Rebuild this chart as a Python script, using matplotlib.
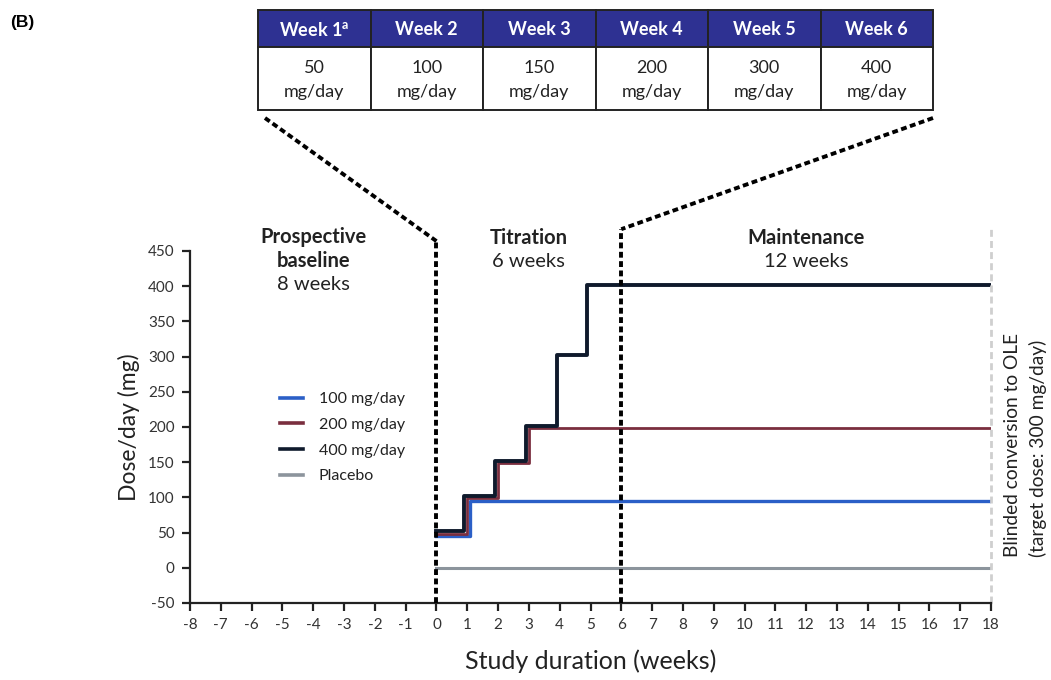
import matplotlib
matplotlib.use("Agg")
import matplotlib.pyplot as plt
from matplotlib.patches import Rectangle
from matplotlib.lines import Line2D

plt.rcParams['font.family'] = ['Lato', 'DejaVu Sans']
plt.rcParams['axes.unicode_minus'] = False

# dose schedules (weeks, mg/day), drawn as steps
weeks_100 = [0, 1.1, 18]
dose_100 = [45, 95, 95]
weeks_200 = [0, 1.0, 2.0, 3.0, 18]
dose_200 = [48, 99, 149, 199, 199]
weeks_400 = [0, 0.9, 1.9, 2.9, 3.9, 4.9, 18]
dose_400 = [52, 102, 152, 202, 302, 402, 402]
weeks_pbo = [0, 18]
dose_pbo = [0, 0]

table_weeks = ['Week 1', 'Week 2', 'Week 3', 'Week 4', 'Week 5', 'Week 6']
table_doses = ['50', '100', '150', '200', '300', '400']

series_labels = ['100 mg/day', '200 mg/day', '400 mg/day', 'Placebo']
c_100, c_200, c_400, c_pbo = '#2B5FC7', '#7A2E3E', '#0F1A2C', '#8C949C'
txt = '#222222'

W, H = 1051, 680
fig = plt.figure(figsize=(W / 100, H / 100), dpi=100)
ax = fig.add_axes([190 / W, 77 / H, 801 / W, 352 / H])
ax.patch.set_alpha(0)

ax.plot(weeks_pbo, dose_pbo, drawstyle='steps-post', color=c_pbo, lw=2.2)
ax.plot(weeks_100, dose_100, drawstyle='steps-post', color=c_100, lw=2.4)
ax.plot(weeks_200, dose_200, drawstyle='steps-post', color=c_200, lw=2.0)
ax.plot(weeks_400, dose_400, drawstyle='steps-post', color=c_400, lw=2.8)

ax.set_xlim(-8, 18)
ax.set_ylim(-50, 450)
ax.set_xticks(range(-8, 19))
ax.set_yticks(range(-50, 451, 50))
for s in ['top', 'right']:
    ax.spines[s].set_visible(False)
for s in ['left', 'bottom']:
    ax.spines[s].set_linewidth(1.6)
    ax.spines[s].set_color(txt)
ax.tick_params(direction='out', length=6, width=1.6, color=txt,
               labelsize=11, labelcolor='#333333', pad=5)
ax.set_xlabel('Study duration (weeks)', fontsize=18, color=txt, labelpad=12)
ax.set_ylabel('Dose/day (mg)', fontsize=16.5, color=txt, labelpad=6)

# phase boundaries
dash = (0, (1.5, 0.9))
top0, top6 = 464, 481
ax.plot([0, 0], [-50, top0], color='black', lw=2.8, ls=dash, clip_on=False, zorder=5)
ax.plot([6, 6], [-50, top6], color='black', lw=2.8, ls=dash, clip_on=False, zorder=5)
ax.plot([18, 18], [-50, top6], color='#CFCFCF', lw=2.0, ls=(0, (2.5, 1.5)), clip_on=False)

# phase labels
fs = 14.5
ax.text(-4, 470, 'Prospective', ha='center', va='center', fontsize=fs, fontweight='bold', color=txt)
ax.text(-4, 436, 'baseline', ha='center', va='center', fontsize=fs, fontweight='bold', color=txt)
ax.text(-4, 402, '8 weeks', ha='center', va='center', fontsize=fs, color=txt)
ax.text(3, 469, 'Titration', ha='center', va='center', fontsize=fs, fontweight='bold', color=txt)
ax.text(3, 435, '6 weeks', ha='center', va='center', fontsize=fs, color=txt)
ax.text(12, 469, 'Maintenance', ha='center', va='center', fontsize=fs, fontweight='bold', color=txt)
ax.text(12, 435, '12 weeks', ha='center', va='center', fontsize=fs, color=txt)

handles = [Line2D([], [], color=c, lw=2.6) for c in [c_100, c_200, c_400, c_pbo]]
ax.legend(handles, series_labels, loc='upper left', bbox_to_anchor=(0.105, 0.617),
          frameon=False, fontsize=11.5, handlelength=1.4, handletextpad=1.0,
          labelspacing=0.72, labelcolor=txt, borderaxespad=0)

# overlay in pixel coordinates for the table and connectors
ov = fig.add_axes([0, 0, 1, 1])
ov.set_xlim(0, W)
ov.set_ylim(H, 0)
ov.axis('off')

x0, x1 = 258, 933
y_top, y_mid, y_bot = 10, 47, 110
cw = (x1 - x0) / len(table_weeks)
for i, (wk, d) in enumerate(zip(table_weeks, table_doses)):
    cx = x0 + i * cw
    ov.add_patch(Rectangle((cx, y_top), cw, y_mid - y_top, facecolor='#2E3192',
                           edgecolor=txt, lw=1.4))
    ov.add_patch(Rectangle((cx, y_mid), cw, y_bot - y_mid, facecolor='white',
                           edgecolor=txt, lw=1.4))
    label = wk + ('$^{\\mathregular{a}}$' if i == 0 else '')
    ov.text(cx + cw / 2, (y_top + y_mid) / 2 + 1, label, ha='center', va='center',
            color='white', fontsize=13, fontweight='bold')
    ov.text(cx + cw / 2, 68, d, ha='center', va='center', fontsize=13, color=txt)
    ov.text(cx + cw / 2, 92, 'mg/day', ha='center', va='center', fontsize=13, color=txt)

# dashed connectors from table corners to the phase boundaries
to_px = ax.transData + ov.transData.inverted()
for xa, ya, xb in [(0, top0, 265), (6, top6, 933)]:
    px, py = to_px.transform((xa, ya))
    ov.plot([xb, px], [118, py], color='black', lw=2.8, ls=dash)

ov.text(1012, 557, 'Blinded conversion to OLE', rotation=90, ha='center', va='bottom',
        fontsize=13.8, color=txt)
ov.text(1038, 557, '(target dose: 300 mg/day)', rotation=90, ha='center', va='bottom',
        fontsize=13.8, color=txt)
ov.text(10, 22, '(B)', ha='left', va='center', fontsize=12.5, fontweight='bold',
        family='Liberation Sans')

fig.savefig('out.png', dpi=100)
